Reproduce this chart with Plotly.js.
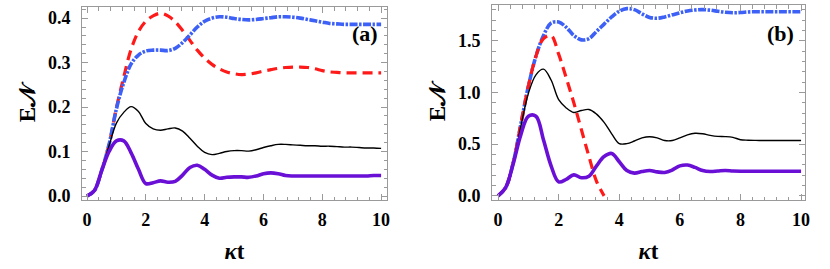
<!DOCTYPE html>
<html>
<head>
<meta charset="utf-8">
<script src="https://cdn.plot.ly/plotly-3.0.1.min.js"></script>
<style>html,body{margin:0;padding:0;background:#fff;font-family:'Liberation Serif';}#plot{width:830px;height:269px;}</style>
</head>
<body>
<div id="plot"></div>
<script>
// time grid (kappa t)
const t = [0,0.25,0.5,0.75,1,1.25,1.5,1.75,2,2.25,2.5,2.75,3,3.25,3.5,3.75,4,4.25,4.5,4.75,5,5.25,5.5,5.75,6,6.25,6.5,6.75,7,7.25,7.5,7.75,8,8.25,8.5,8.75,9,9.25,9.5,9.75,10];

// Panel (a)
const aBlack  = [0,0.012,0.058,0.113,0.164,0.188,0.201,0.19,0.163,0.151,0.148,0.151,0.153,0.146,0.13,0.112,0.098,0.093,0.096,0.1,0.102,0.102,0.101,0.104,0.109,0.113,0.116,0.116,0.115,0.114,0.113,0.113,0.112,0.112,0.111,0.11,0.11,0.109,0.108,0.108,0.107];
const aPurple = [0,0.012,0.057,0.1,0.124,0.124,0.097,0.06,0.028,0.03,0.034,0.031,0.033,0.047,0.064,0.069,0.06,0.047,0.04,0.042,0.043,0.043,0.042,0.045,0.05,0.052,0.05,0.046,0.045,0.045,0.045,0.045,0.045,0.045,0.045,0.045,0.045,0.045,0.045,0.046,0.046];
const aRed    = [0,0.012,0.058,0.116,0.198,0.268,0.33,0.37,0.393,0.405,0.411,0.405,0.392,0.372,0.35,0.328,0.31,0.296,0.286,0.279,0.275,0.273,0.274,0.277,0.281,0.284,0.287,0.289,0.29,0.29,0.289,0.286,0.282,0.279,0.278,0.277,0.277,0.277,0.277,0.277,0.277];
const aBlue   = [0,0.012,0.058,0.116,0.196,0.255,0.297,0.317,0.326,0.328,0.328,0.327,0.332,0.345,0.362,0.38,0.393,0.4,0.403,0.402,0.399,0.397,0.396,0.397,0.399,0.401,0.403,0.403,0.402,0.4,0.397,0.394,0.391,0.388,0.387,0.386,0.386,0.386,0.386,0.386,0.386];

// Panel (b)
const bBlack  = [0,0.08,0.32,0.67,0.99,1.17,1.225,1.12,0.93,0.85,0.806,0.825,0.835,0.79,0.71,0.6,0.505,0.505,0.53,0.56,0.572,0.56,0.535,0.535,0.56,0.59,0.605,0.6,0.585,0.575,0.573,0.565,0.543,0.538,0.536,0.535,0.535,0.535,0.535,0.535,0.535];
const bPurple = [0,0.08,0.31,0.59,0.77,0.77,0.54,0.29,0.135,0.16,0.203,0.175,0.19,0.29,0.38,0.41,0.33,0.245,0.22,0.235,0.245,0.232,0.226,0.25,0.29,0.298,0.275,0.245,0.235,0.24,0.245,0.24,0.238,0.238,0.238,0.238,0.238,0.238,0.238,0.238,0.238];
const bRed    = [0,0.08,0.32,0.69,1.06,1.35,1.52,1.55,1.37,1.14,0.9,0.64,0.38,0.14,0];
const bBlue   = [0,0.08,0.32,0.69,1.06,1.35,1.55,1.67,1.68,1.63,1.55,1.508,1.52,1.59,1.66,1.73,1.785,1.81,1.8,1.76,1.725,1.717,1.73,1.75,1.77,1.787,1.797,1.8,1.795,1.785,1.775,1.77,1.772,1.778,1.78,1.78,1.78,1.78,1.78,1.78,1.78];

const xTickVals = [0,2,4,6,8,10];
const aYTicks = [0.0,0.1,0.2,0.3,0.4];
const bYTicks = [0.0,0.5,1.0,1.5];
const panelLabels = ['(a)','(b)'];

const styles = {
  black:  {color:'#000000', width:1.4},
  purple: {color:'#6a10d6', width:3.6},
  red:    {color:'#ff1a1a', width:3.2, dash:'10px,6px'},
  blue:   {color:'#3d60f6', width:3.6, dash:'8px,1.5px,2.5px,1.5px'}
};

function tr(x, y, st, xa, ya){
  return {x:x, y:y, xaxis:xa, yaxis:ya, mode:'lines', type:'scatter',
    line:Object.assign({shape:'spline', smoothing:1}, st), hoverinfo:'skip', showlegend:false};
}

const data = [
  tr(t, aRed, styles.red, 'x', 'y'),
  tr(t, aBlue, styles.blue, 'x', 'y'),
  tr(t, aBlack, styles.black, 'x', 'y'),
  tr(t, aPurple, styles.purple, 'x', 'y'),
  tr(t, bBlue, styles.blue, 'x2', 'y2'),
  tr(t.slice(0, bRed.length), bRed, styles.red, 'x2', 'y2'),
  tr(t, bBlack, styles.black, 'x2', 'y2'),
  tr(t, bPurple, styles.purple, 'x2', 'y2')
];

const FAM = 'Liberation Serif';
const tickFont = {family:FAM, size:18, color:'#000', weight:'bold'};
const titleFont = {family:FAM, size:23, color:'#000', weight:'bold'};
const frame = '#9a9a9a';
const B = s => '<b>' + s + '</b>';

function xAxis(dom){
  return {domain:dom, showgrid:false, zeroline:false,
    showline:true, linecolor:frame, linewidth:1, mirror:'allticks',
    ticks:'inside', ticklen:6, tickcolor:frame, tickwidth:1,
    tickmode:'array', tickvals:xTickVals, ticktext:xTickVals.map(v=>B(String(v))),
    minor:{dtick:0.4, tick0:0, ticks:'inside', ticklen:3.5, tickcolor:frame, tickwidth:1, showgrid:false},
    tickfont:tickFont, ticklabelstandoff:3,
    title:{text:'<b><i>κ</i>t</b>', font:titleFont, standoff:14}};
}
function yAxis(dom, range, vals, dec, minorD){
  return {domain:dom, range:range, showgrid:false, zeroline:false,
    showline:true, linecolor:frame, linewidth:1, mirror:'allticks',
    ticks:'inside', ticklen:6, tickcolor:frame, tickwidth:1,
    tickmode:'array', tickvals:vals, ticktext:vals.map(v=>B(v.toFixed(dec))),
    minor:{dtick:minorD, tick0:0, ticks:'inside', ticklen:3.5, tickcolor:frame, tickwidth:1, showgrid:false},
    tickfont:tickFont, ticklabelstandoff:7,
    title:{text:'<b>E𝒩</b>', font:titleFont, standoff:5}};
}

const xa = xAxis([82/830, 387/830]); xa.range=[-0.17,10.2]; xa.anchor='y';
const xb = xAxis([492/830, 805/830]); xb.range=[-0.2,10.13]; xb.anchor='y2';
const ya = yAxis([69/269, 262/269], [-0.009,0.425], aYTicks, 1, 0.02); ya.anchor='x';
const yb = yAxis([69/269, 264/269], [-0.04,1.845], bYTicks, 1, 0.1); yb.anchor='x2';

const layout = {
  width:830, height:269,
  margin:{l:0,r:0,t:0,b:0},
  font:{family:FAM, color:'#000', size:18},
  paper_bgcolor:'#fff', plot_bgcolor:'#fff',
  xaxis:xa, yaxis:ya, xaxis2:xb, yaxis2:yb,
  annotations:[
    {text:B(panelLabels[0]), xref:'paper', yref:'paper', x:365/830, y:1-34/269, xanchor:'center', yanchor:'middle', showarrow:false, font:{family:FAM, size:22, color:'#000'}},
    {text:B(panelLabels[1]), xref:'paper', yref:'paper', x:780/830, y:1-34/269, xanchor:'center', yanchor:'middle', showarrow:false, font:{family:FAM, size:22, color:'#000'}}
  ]
};

Plotly.newPlot('plot', data, layout, {staticPlot:true, displayModeBar:false});
</script>
</body>
</html>
